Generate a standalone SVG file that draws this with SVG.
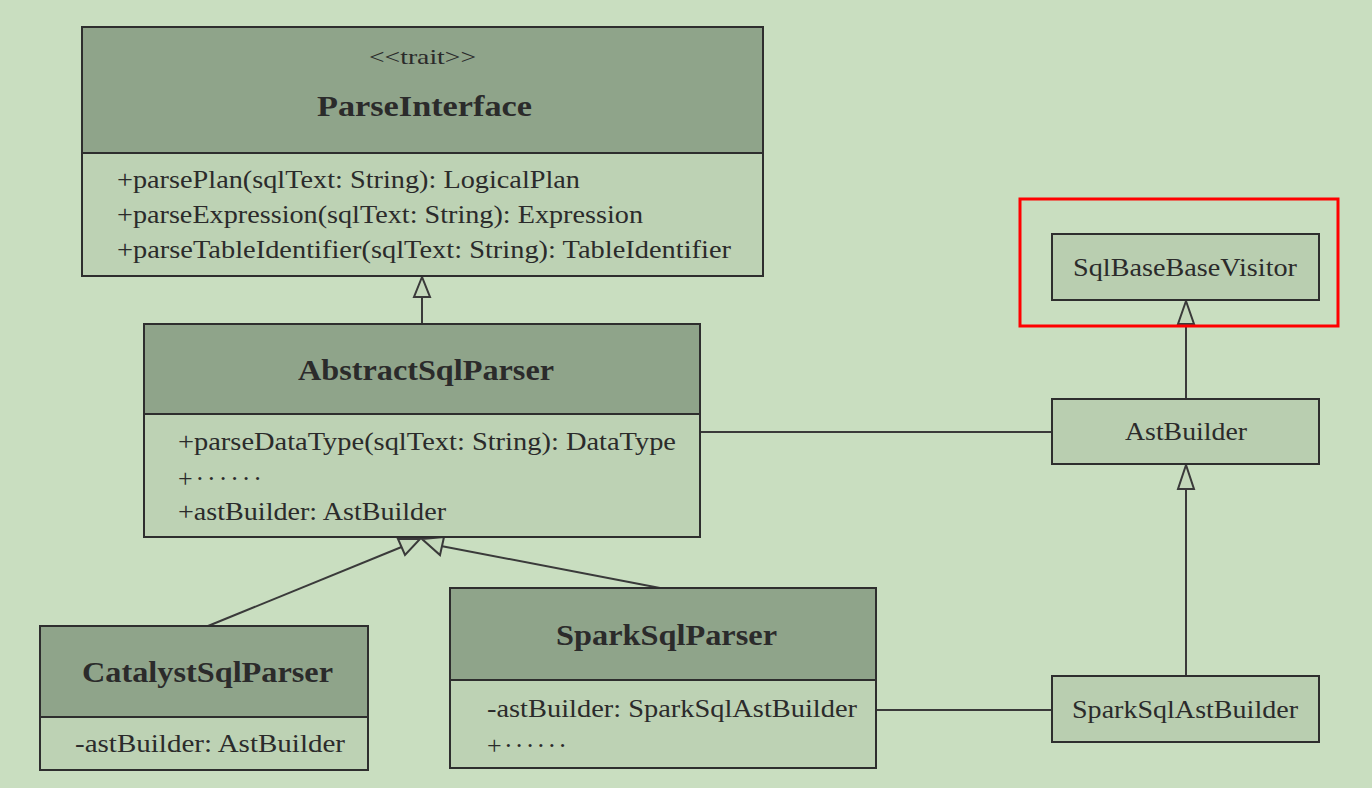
<svg xmlns="http://www.w3.org/2000/svg" width="1372" height="788" viewBox="0 0 1372 788">
<style>
.bg{fill:#c9dec0}
.hd{fill:#8fa48a;stroke:#2e2e2e;stroke-width:2}
.bd{fill:#bdd2b4;stroke:#2e2e2e;stroke-width:2}
.sm{fill:#b9ceb0;stroke:#2e2e2e;stroke-width:2}
.t{font-family:"Liberation Serif","Times New Roman",serif;fill:#2b2b2b}
.title{font-size:30px;font-weight:bold}
.st{font-size:21px}
.m{font-size:26px}
.n{font-size:26px}
.ln{stroke:#3a3a3a;stroke-width:2;fill:none}
.tri{fill:#c4d9bb;stroke:#3a3a3a;stroke-width:2}
</style>
<rect class="bg" x="0" y="0" width="1372" height="788"/>

<g id="connectors">
  <line class="ln" x1="422" y1="324" x2="422" y2="297"/>
  <polygon class="tri" points="422,277 414,297 430,297"/>
  <line class="ln" x1="208" y1="626" x2="404" y2="546"/>
  <polygon class="tri" points="420,539 398,539 405,555"/>
  <line class="ln" x1="660" y1="588" x2="441" y2="546"/>
  <polygon class="tri" points="422,539 444,537 440,555"/>
  <line class="ln" x1="700" y1="432" x2="1052" y2="432"/>
  <line class="ln" x1="876" y1="710" x2="1052" y2="710"/>
  <line class="ln" x1="1186" y1="399" x2="1186" y2="324"/>
  <polygon class="tri" points="1186,301 1178,324 1194,324"/>
  <line class="ln" x1="1186" y1="676" x2="1186" y2="489"/>
  <polygon class="tri" points="1186,465 1178,489 1194,489"/>
</g>

<g id="ParseInterface">
  <rect class="hd" x="82" y="27" width="681" height="126"/>
  <rect class="bd" x="82" y="153" width="681" height="123"/>
  <text class="t st" x="369" y="64" textLength="107" lengthAdjust="spacingAndGlyphs">&lt;&lt;trait&gt;&gt;</text>
  <text class="t title" x="317" y="116" textLength="215" lengthAdjust="spacingAndGlyphs">ParseInterface</text>
  <text class="t m" x="117" y="188" textLength="463" lengthAdjust="spacingAndGlyphs">+parsePlan(sqlText: String): LogicalPlan</text>
  <text class="t m" x="117" y="223" textLength="526" lengthAdjust="spacingAndGlyphs">+parseExpression(sqlText: String): Expression</text>
  <text class="t m" x="117" y="258" textLength="614" lengthAdjust="spacingAndGlyphs">+parseTableIdentifier(sqlText: String): TableIdentifier</text>
</g>

<g id="AbstractSqlParser">
  <rect class="hd" x="144" y="324" width="556" height="90"/>
  <rect class="bd" x="144" y="414" width="556" height="123"/>
  <text class="t title" x="298" y="380" textLength="256" lengthAdjust="spacingAndGlyphs">AbstractSqlParser</text>
  <text class="t m" x="178" y="450" textLength="498" lengthAdjust="spacingAndGlyphs">+parseDataType(sqlText: String): DataType</text>
  <text class="t m" x="178" y="487" textLength="84" lengthAdjust="spacing">+······</text>
  <text class="t m" x="178" y="520" textLength="268" lengthAdjust="spacingAndGlyphs">+astBuilder: AstBuilder</text>
</g>

<g id="CatalystSqlParser">
  <rect class="hd" x="40" y="626" width="328" height="91"/>
  <rect class="bd" x="40" y="717" width="328" height="53"/>
  <text class="t title" x="82" y="682" textLength="251" lengthAdjust="spacingAndGlyphs">CatalystSqlParser</text>
  <text class="t m" x="75" y="752" textLength="270" lengthAdjust="spacingAndGlyphs">-astBuilder: AstBuilder</text>
</g>

<g id="SparkSqlParser">
  <rect class="hd" x="450" y="588" width="426" height="92"/>
  <rect class="bd" x="450" y="680" width="426" height="88"/>
  <text class="t title" x="556" y="645" textLength="221" lengthAdjust="spacingAndGlyphs">SparkSqlParser</text>
  <text class="t m" x="487" y="717" textLength="370" lengthAdjust="spacingAndGlyphs">-astBuilder: SparkSqlAstBuilder</text>
  <text class="t m" x="487" y="754" textLength="80" lengthAdjust="spacing">+······</text>
</g>

<g id="SqlBaseBaseVisitor">
  <rect class="sm" x="1052" y="234" width="267" height="66"/>
  <text class="t n" x="1073" y="276" textLength="224" lengthAdjust="spacingAndGlyphs">SqlBaseBaseVisitor</text>
</g>

<g id="AstBuilder">
  <rect class="sm" x="1052" y="399" width="267" height="65"/>
  <text class="t n" x="1125" y="440" textLength="122" lengthAdjust="spacingAndGlyphs">AstBuilder</text>
</g>

<g id="SparkSqlAstBuilder">
  <rect class="sm" x="1052" y="676" width="267" height="66"/>
  <text class="t n" x="1072" y="718" textLength="226" lengthAdjust="spacingAndGlyphs">SparkSqlAstBuilder</text>
</g>

<g id="highlight">
  <rect x="1020" y="199" width="318" height="127" fill="none" stroke="#ff0000" stroke-width="3"/>
</g>
</svg>
